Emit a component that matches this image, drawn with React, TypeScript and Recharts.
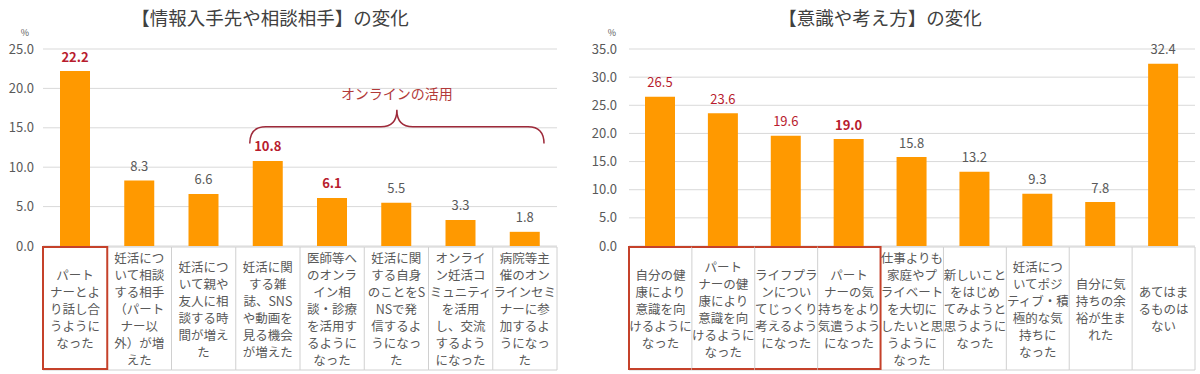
import { BarChart, Bar, XAxis, YAxis, CartesianGrid, LabelList, ReferenceArea } from 'recharts'

const FONT = "'Noto Sans CJK JP', 'Noto Sans', sans-serif"
const ORANGE = '#FF9900'
const RED = '#B81C2E'
const GRID = '#D9D9D9'
const CELL_BORDER = '#D0D0D0'
const BOX_RED = '#C5412A'

// 【情報入手先や相談相手】の変化
const infoLabels = [
  ['パート', 'ナーとよ', 'り話し合', 'うように', 'なった'],
  ['妊活につ', 'いて相談', 'する相手', '（パート', 'ナー以', '外）が増', 'えた'],
  ['妊活につ', 'いて親や', '友人に相', '談する時', '間が増え', 'た'],
  ['妊活に関', 'する雑', '誌、SNS', 'や動画を', '見る機会', 'が増えた'],
  ['医師等へ', 'のオンラ', 'イン相', '談・診療', 'を活用す', 'るように', 'なった'],
  ['妊活に関', 'する自身', 'のことをS', 'NSで発', '信するよ', 'うになっ', 'た'],
  ['オンライ', 'ン妊活コ', 'ミュニティ', 'を活用', 'し、交流', 'するよう', 'になった'],
  ['病院等主', '催のオン', 'ラインセミ', 'ナーに参', '加するよ', 'うになっ', 'た'],
]
const infoValues = [22.2, 8.3, 6.6, 10.8, 6.1, 5.5, 3.3, 1.8]
const infoEmphasis = ['bold', 'plain', 'plain', 'bold', 'bold', 'plain', 'plain', 'plain']
const infoTicks = [0, 5, 10, 15, 20, 25]

// 【意識や考え方】の変化
const mindLabels = [
  ['自分の健', '康により', '意識を向', 'けるように', 'なった'],
  ['パート', 'ナーの健', '康により', '意識を向', 'けるように', 'なった'],
  ['ライフプラ', 'ンについ', 'てじっくり', '考えるよう', 'になった'],
  ['パート', 'ナーの気', '持ちをより', '気遣うよう', 'になった'],
  ['仕事よりも', '家庭やプ', 'ライベート', 'を大切に', 'したいと思', 'うように', 'なった'],
  ['新しいこと', 'をはじめ', 'てみようと', '思うように', 'なった'],
  ['妊活につ', 'いてポジ', 'ティブ・積', '極的な気', '持ちに', 'なった'],
  ['自分に気', '持ちの余', '裕が生ま', 'れた'],
  ['あてはま', 'るものは', 'ない'],
]
const mindValues = [26.5, 23.6, 19.6, 19.0, 15.8, 13.2, 9.3, 7.8, 32.4]
const mindEmphasis = ['red', 'red', 'red', 'bold', 'plain', 'plain', 'plain', 'plain', 'plain']
const mindTicks = [0, 5, 10, 15, 20, 25, 30, 35]

const H = 374
const TABLE_H = 124

function CellTick(props: any) {
  const { x, y, index, lines, cellW, hl, n } = props
  const left = x - cellW / 2
  const right = x + cellW / 2
  const top = y + 1
  const bottom = y + TABLE_H
  const inBox = index >= hl[0] && index <= hl[1]
  const leftRed = index === hl[0] || index === hl[1] + 1
  const rows: string[] = lines[index] ?? []
  const cy = (top + bottom) / 2
  const lh = 17
  return (
    <g>
      <line x1={left} x2={right} y1={top} y2={top} stroke={CELL_BORDER} />
      <line x1={left} x2={right} y1={bottom} y2={bottom} stroke={CELL_BORDER} />
      {index === n - 1 && <line x1={right} x2={right} y1={top} y2={bottom} stroke={CELL_BORDER} />}
      {!leftRed && <line x1={left} x2={left} y1={top} y2={bottom} stroke={CELL_BORDER} />}
      {inBox && <line x1={left} x2={right} y1={top} y2={top} stroke={BOX_RED} strokeWidth={2} />}
      {inBox && <line x1={left} x2={right} y1={bottom - 1} y2={bottom - 1} stroke={BOX_RED} strokeWidth={2} />}
      {leftRed && <line x1={left} x2={left} y1={top - 1} y2={bottom} stroke={BOX_RED} strokeWidth={2} />}
      {rows.map((t, i) => (
        <text key={i} x={x} y={cy + (i - (rows.length - 1) / 2) * lh} textAnchor="middle"
          dominantBaseline="central" fontSize={12.5} fill="#595959" fontFamily={FONT}>{t}</text>
      ))}
    </g>
  )
}

function ValueLabel(props: any) {
  const { x, y, width, value, index, emphasis } = props
  const kind = emphasis[index]
  return (
    <text x={x + width / 2} y={y - 15} textAnchor="middle" dominantBaseline="central" fontFamily={FONT}
      fontSize={13} fontWeight={kind === 'bold' ? 700 : 400} fill={kind === 'plain' ? '#595959' : RED}>
      {Number(value).toFixed(1)}
    </text>
  )
}

function Brace(props: any) {
  const { x, y, width, height } = props
  const x0 = x + 14
  const x1 = x + width - 13
  const xm = (x0 + x1) / 2
  const yb = y + height
  const yt = y + 17
  const d = `M${x0},${yb} Q${x0},${yt} ${x0 + 16},${yt} L${xm - 16},${yt} Q${xm},${yt} ${xm},${y} ` +
    `Q${xm},${yt} ${xm + 16},${yt} L${x1 - 16},${yt} Q${x1},${yt} ${x1},${yb}`
  return (
    <g>
      <path d={d} fill="none" stroke="#9E2A3A" strokeWidth={1.5} />
      <text x={xm} y={y - 17} textAnchor="middle" dominantBaseline="central" fontFamily={FONT}
        fontSize={14} fill="#B23A3A">オンラインの活用</text>
    </g>
  )
}

interface PanelProps {
  left: number
  width: number
  yWidth: number
  marginRight: number
  tickGap: number
  labels: string[][]
  values: number[]
  emphasis: string[]
  ticks: number[]
  hl: [number, number]
  title: string
  titleX: number
  pctX: number
  brace?: boolean
}

function Panel(p: PanelProps) {
  const data = p.values.map((v, i) => ({ key: 'c' + i, value: v }))
  const cellW = (p.width - p.yWidth - p.marginRight) / p.values.length
  return (
    <div style={{ position: 'absolute', left: p.left, top: 0, width: p.width, height: H }}>
      <div style={{ position: 'absolute', left: p.titleX - p.left - 200, width: 400, top: 4, textAlign: 'center',
        fontFamily: FONT, fontSize: 18.5, color: '#404040', lineHeight: '26px' }}>{p.title}</div>
      <div style={{ position: 'absolute', left: p.pctX - p.left - 10, width: 20, top: 28, textAlign: 'center',
        fontFamily: FONT, fontSize: 9, lineHeight: '10px', color: '#595959' }}>%</div>
      <BarChart width={p.width} height={H} data={data} margin={{ top: 49, right: p.marginRight, bottom: 4, left: 0 }}>
        <CartesianGrid vertical={false} stroke={GRID} />
        <XAxis dataKey="key" interval={0} height={TABLE_H} axisLine={false} tickLine={false} tickSize={0} tickMargin={0}
          tick={(tp: any) => <CellTick {...tp} lines={p.labels} cellW={cellW} hl={p.hl} n={p.values.length} />} />
        <YAxis width={p.yWidth} domain={[0, p.ticks[p.ticks.length - 1]]} ticks={p.ticks} axisLine={false}
          tickLine={false} tickSize={0} tickMargin={p.tickGap} tickFormatter={(v: number) => v.toFixed(1)}
          tick={{ fontSize: 13, fill: '#595959', fontFamily: FONT }} />
        <Bar dataKey="value" fill={ORANGE} barSize={30} isAnimationActive={false}>
          <LabelList dataKey="value" content={(lp: any) => <ValueLabel {...lp} emphasis={p.emphasis} />} />
        </Bar>
        {p.brace && (
          <ReferenceArea x1="c3" x2="c7" y1={13} y2={17.3} ifOverflow="visible"
            shape={(sp: any) => <Brace {...sp} />} />
        )}
      </BarChart>
    </div>
  )
}

export default function App() {
  return (
    <div style={{ position: 'absolute', left: 0, top: 0, width: 1200, height: H, background: '#fff', overflow: 'hidden' }}>
      <Panel left={0} width={600} yWidth={43} marginRight={43} tickGap={9} labels={infoLabels} values={infoValues}
        emphasis={infoEmphasis} ticks={infoTicks} hl={[0, 0]} title="【情報入手先や相談相手】の変化" titleX={270}
        pctX={25} brace />
      <Panel left={590} width={610} yWidth={39} marginRight={5} tickGap={12} labels={mindLabels} values={mindValues}
        emphasis={mindEmphasis} ticks={mindTicks} hl={[0, 3]} title="【意識や考え方】の変化" titleX={880}
        pctX={612} />
    </div>
  )
}
